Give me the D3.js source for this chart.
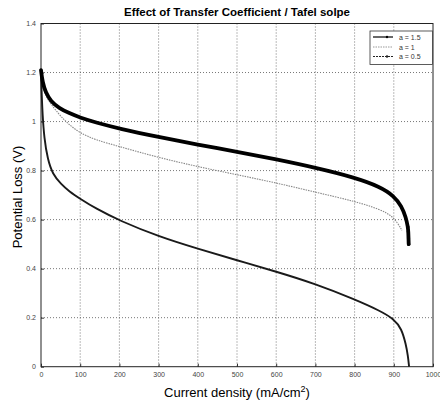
<!DOCTYPE html>
<html><head><meta charset="utf-8">
<script src="https://cdn.jsdelivr.net/npm/d3@7"></script>
<style>body{margin:0;background:#fff}svg{display:block}</style>
</head><body>
<svg id="c" width="440" height="405"></svg>
<script>
const titleText = "Effect of Transfer Coefficient / Tafel solpe";
const xLabel = "Current density (mA/cm";
const yLabel = "Potential Loss (V)";
const xTicks = [0,100,200,300,400,500,600,700,800,900,1000];
const yTicks = [0,0.2,0.4,0.6,0.8,1,1.2,1.4];
const seriesNames = ["a = 1.5","a = 1","a = 0.5"];

const x15 = [0,4,12,25,46,72,100,140,200,300,400,500,600,700,800,865,900,920,931,936,937,937.5,938];
const v15 = [1.21,1.16,1.118,1.083,1.055,1.034,1.016,0.996,0.971,0.937,0.906,0.877,0.846,0.812,0.772,0.734,0.697,0.655,0.608,0.57,0.55,0.525,0.50];

const x10 = [0,3,8,21,38,64,100,140,200,300,400,500,600,700,800,865,900,921];
const v10 = [1.2,1.155,1.12,1.08,1.045,0.997,0.952,0.925,0.898,0.853,0.816,0.783,0.750,0.712,0.675,0.642,0.612,0.556];

const x05 = [0,2,4,8,17,30,51,72,100,140,200,300,400,500,600,700,800,865,900,920,931,936,939];
const v05 = [1.2,1.1,1.03,0.935,0.845,0.785,0.745,0.715,0.685,0.645,0.596,0.531,0.481,0.434,0.388,0.338,0.275,0.228,0.195,0.155,0.09,0.045,0.0];

const svg = d3.select("#c");
const L = 41, R = 433, T = 23.5, B = 366.7;
const x = d3.scaleLinear().domain([0,1000]).range([L,R]);
const y = d3.scaleLinear().domain([0,1.4]).range([B,T]);

// grid
const g = svg.append("g");
g.selectAll(".vg").data(xTicks.slice(1,-1)).enter().append("line")
 .attr("x1",d=>x(d)).attr("x2",d=>x(d)).attr("y1",T).attr("y2",B)
 .attr("stroke","#555").attr("stroke-width",0.8).attr("stroke-dasharray","1,2");
g.selectAll(".hg").data(yTicks.slice(1,-1)).enter().append("line")
 .attr("y1",d=>y(d)).attr("y2",d=>y(d)).attr("x1",L).attr("x2",R)
 .attr("stroke","#555").attr("stroke-width",0.8).attr("stroke-dasharray","1,2");

// axes
const xa = svg.append("g").attr("transform",`translate(0,${B})`)
 .call(d3.axisBottom(x).tickValues(xTicks).tickSize(-3).tickPadding(5).tickFormat(d3.format("d")));
const ya = svg.append("g").attr("transform",`translate(${L},0)`)
 .call(d3.axisLeft(y).tickValues(yTicks).tickSize(-3).tickPadding(5).tickFormat(d=>String(+d.toFixed(1))));
[xa,ya].forEach(a=>{
  a.select(".domain").remove();
  a.selectAll("line").attr("stroke","#333");
  a.selectAll("text").attr("font-family","Liberation Sans, Arial, sans-serif").attr("font-size",7).attr("fill","#444");
});
svg.append("rect").attr("x",L).attr("y",T).attr("width",R-L).attr("height",B-T)
 .attr("fill","none").attr("stroke","#222").attr("stroke-width",1);

function pts(xs,vs){return xs.map((d,i)=>[d,vs[i]]);}
const line = d3.line().x(d=>x(d[0])).y(d=>y(d[1])).curve(d3.curveBasis);

// a=1 dotted gray
svg.append("path").datum(pts(x10,v10)).attr("d",line).attr("fill","none")
 .attr("stroke","#888").attr("stroke-width",1.1).attr("stroke-dasharray","1.5,1");
// a=0.5
svg.append("path").datum(pts(x05,v05)).attr("d",line).attr("fill","none")
 .attr("stroke","#1a1a1a").attr("stroke-width",1.9);
// a=1.5 thick
svg.append("path").datum(pts(x15,v15)).attr("d",line).attr("fill","none")
 .attr("stroke","#000").attr("stroke-width",3.8).attr("stroke-linecap","round");
svg.append("g").selectAll("circle").data(pts(x15,v15).slice(-4)).enter().append("circle")
 .attr("cx",d=>x(d[0])).attr("cy",d=>y(d[1])).attr("r",1.6).attr("fill","#000");

// title & labels
svg.append("text").attr("x",237).attr("y",16).attr("text-anchor","middle")
 .attr("font-family","Liberation Sans, Arial, sans-serif").attr("font-weight","bold").attr("font-size",11.5)
 .text(titleText);
const xl = svg.append("text").attr("x",237).attr("y",397).attr("text-anchor","middle")
 .attr("font-family","Liberation Sans, Arial, sans-serif").attr("font-size",13).text(xLabel);
xl.append("tspan").attr("dy",-5).attr("font-size",9).text("2");
xl.append("tspan").attr("dy",5).text(")");
svg.append("text").attr("transform","translate(22,197) rotate(-90)").attr("text-anchor","middle")
 .attr("font-family","Liberation Sans, Arial, sans-serif").attr("font-size",13).text(yLabel);

// legend
const lg = svg.append("g");
lg.append("rect").attr("x",370).attr("y",31).attr("width",62.5).attr("height",33.5)
 .attr("fill","#fff").attr("stroke","#333").attr("stroke-width",0.8);
const rows = [37,47,56.5];
const styles = [
 {c:"#000",w:1.2,d:null,m:true},
 {c:"#999",w:1,d:"1.5,1",m:false},
 {c:"#222",w:1,d:"2,1",m:true}
];
seriesNames.forEach((n,i)=>{
  const s = styles[i];
  const ln = lg.append("line").attr("x1",373).attr("x2",393).attr("y1",rows[i]).attr("y2",rows[i])
   .attr("stroke",s.c).attr("stroke-width",s.w);
  if(s.d) ln.attr("stroke-dasharray",s.d);
  if(s.m) lg.append("circle").attr("cx",387).attr("cy",rows[i]).attr("r",1.2).attr("fill",s.c);
  lg.append("text").attr("x",399).attr("y",rows[i]+2.5).attr("font-family","Liberation Sans, Arial, sans-serif")
   .attr("font-size",7).attr("fill","#333").text(n);
});
</script>
</body></html>
